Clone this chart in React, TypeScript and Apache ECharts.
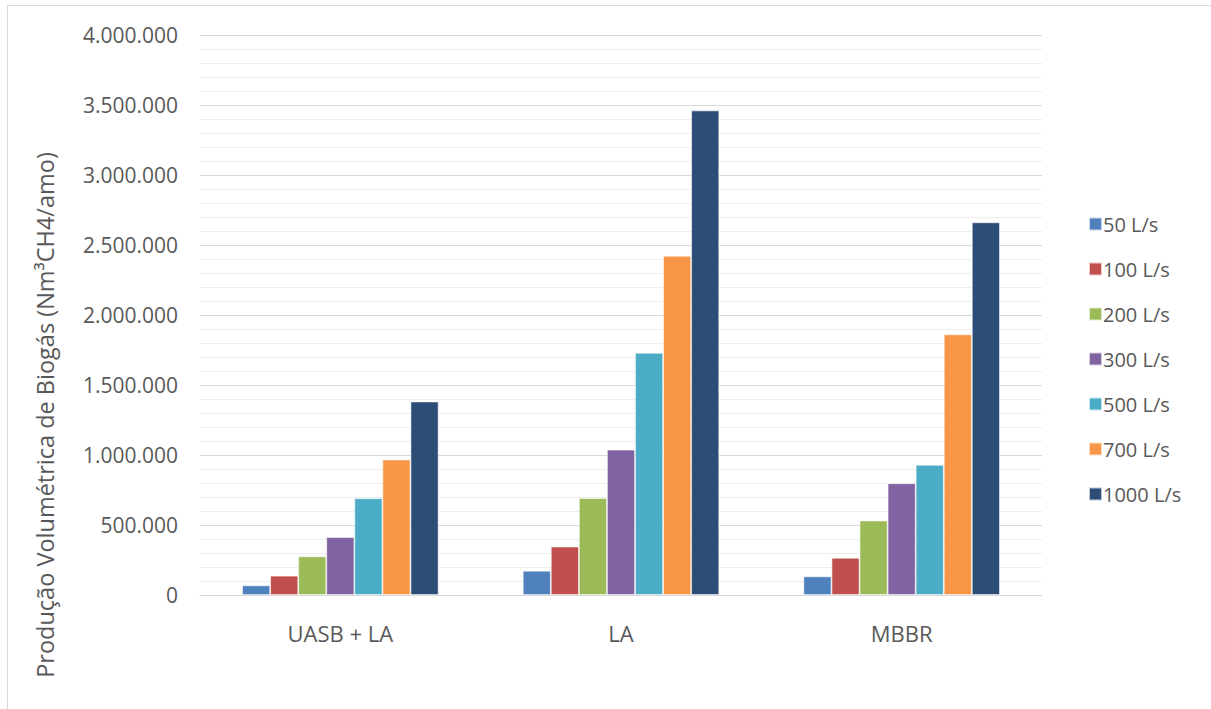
import React, { useEffect, useRef } from "react";
import * as echarts from "echarts";

const categories = ["UASB + LA", "LA", "MBBR"];
const seriesNames = ["50 L/s", "100 L/s", "200 L/s", "300 L/s", "500 L/s", "700 L/s", "1000 L/s"];
const s50 = [69000, 173000, 133000];
const s100 = [138000, 346000, 266000];
const s200 = [276000, 692000, 532000];
const s300 = [414000, 1038000, 798000];
const s500 = [691000, 1730000, 930000];
const s700 = [968000, 2423000, 1862000];
const s1000 = [1382000, 3461000, 2662000];
const seriesValues = [s50, s100, s200, s300, s500, s700, s1000];
const colors = ["#4f81bd", "#c0504d", "#9bbb59", "#8064a2", "#4bacc6", "#f79646", "#2c4d75"];
const yTitle = "Produção Volumétrica de Biogás (Nm³CH4/amo)";

const FONT = "'Open Sans', sans-serif";

function fmt(v: number): string {
  return String(Math.round(v)).replace(/\B(?=(\d{3})+(?!\d))/g, ".");
}

export default function App() {
  const ref = useRef<HTMLDivElement>(null);
  useEffect(() => {
    if (!ref.current) return;
    const chart = echarts.init(ref.current, null, { renderer: "svg" });
    chart.setOption({
      animation: false,
      backgroundColor: "#ffffff",
      textStyle: { fontFamily: FONT },
      grid: { left: 200, right: 169, top: 35, bottom: 114, containLabel: false },
      legend: {
        orient: "vertical",
        left: 1083,
        top: 209,
        itemWidth: 13,
        itemHeight: 13,
        itemGap: 25,
        icon: "rect",
        textStyle: { fontFamily: FONT, fontSize: 20, color: "#595959", lineHeight: 20, padding: [0, 0, 0, -4] },
        data: seriesNames,
      },
      xAxis: {
        type: "category",
        data: categories,
        axisLine: { show: true, lineStyle: { color: "#d9d9d9", width: 1 } },
        axisTick: { show: false },
        axisLabel: { fontFamily: FONT, fontSize: 22, color: "#595959", margin: 27, lineHeight: 22 },
      },
      yAxis: {
        type: "value",
        min: 0,
        max: 4000000,
        interval: 500000,
        axisLine: { show: false },
        axisTick: { show: false },
        axisLabel: { fontFamily: FONT, fontSize: 21, color: "#595959", margin: 22, formatter: (v: number) => fmt(v) },
        splitLine: { show: true, lineStyle: { color: "#d9d9d9", width: 1 } },
        minorTick: { show: false, splitNumber: 5 },
        minorSplitLine: { show: true, lineStyle: { color: "#ededed", width: 1 } },
      },
      graphic: [
        {
          type: "rect",
          shape: { x: 7.5, y: 5.5, width: 1300, height: 800 },
          style: { fill: "none", stroke: "#d9d9d9", lineWidth: 1 },
          silent: true,
          z: -10,
        },
        {
          type: "text",
          x: 45,
          y: 415,
          rotation: Math.PI / 2,
          style: {
            text: yTitle,
            fontFamily: FONT,
            fontSize: 23.5,
            fill: "#595959",
            align: "center",
            verticalAlign: "middle",
          },
        },
      ],
      series: seriesNames.map((name, i) => ({
        name,
        type: "bar",
        data: seriesValues[i],
        barGap: "0%",
        barCategoryGap: "30%",
        itemStyle: { color: colors[i], borderColor: "rgba(255,255,255,0.7)", borderWidth: 0.8 },
      })),
    });
    return () => chart.dispose();
  }, []);
  return <div ref={ref} style={{ width: 1211, height: 709, position: "absolute", left: 0, top: 0 }} />;
}
